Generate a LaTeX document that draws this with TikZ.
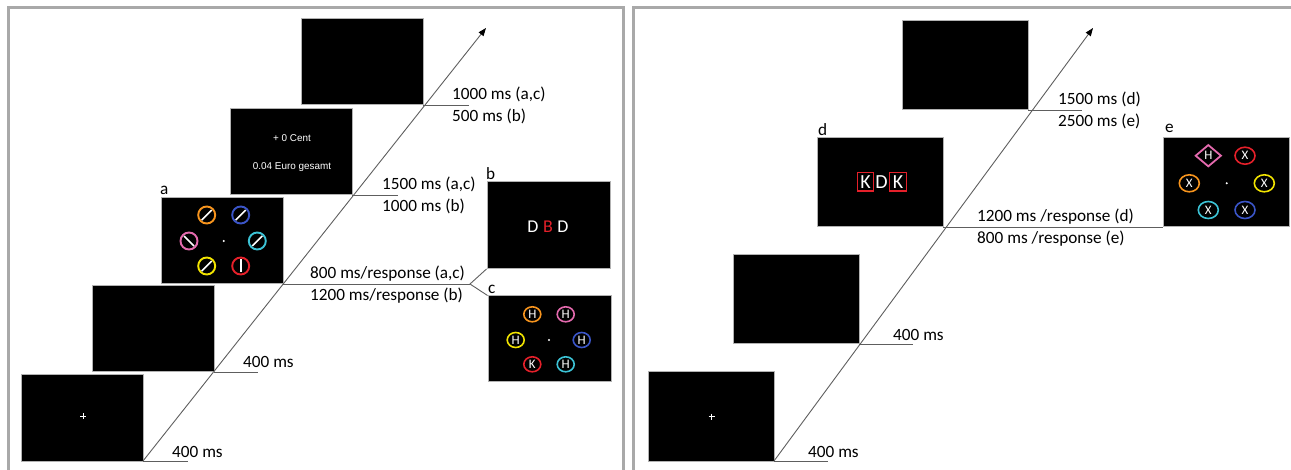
\documentclass[tikz,border=0pt]{standalone}
\usepackage{fontspec}
\setmainfont{Carlito}
\newfontfamily\arialfont{Liberation Sans}
\usetikzlibrary{arrows.meta,shapes.geometric}
\definecolor{cOrange}{HTML}{F7941D}
\definecolor{cBlue}{HTML}{3B55C8}
\definecolor{cPink}{HTML}{E46AAE}
\definecolor{cCyan}{HTML}{3CC3D6}
\definecolor{cYellow}{HTML}{F2E400}
\definecolor{cRed}{HTML}{E5202A}
\definecolor{panelframe}{HTML}{A9A9A9}
\definecolor{axisgray}{HTML}{5E5E5E}

\begin{document}
\begin{tikzpicture}[x=1pt,y=-1pt,
  screen/.style={fill=black, draw=gray!60, line width=0.5pt, minimum width=122pt,
    minimum height=86pt, inner sep=0pt, anchor=south east},
  wscreen/.style={screen, minimum width=126pt, minimum height=89pt},
  timeline/.style={draw=axisgray, line width=0.9pt},
  timearrow/.style={timeline, -{Triangle[length=8pt,width=6pt,color=black]}},
  lbl/.style={font=\fontsize{17.2}{18}\selectfont, inner sep=0pt, anchor=base west},
  panel/.style={draw=panelframe, line width=3pt},
  ring/.style={draw=#1, line width=1.9pt, circle, minimum size=17pt, inner sep=0pt},
  oval/.style={draw=#1, line width=1.6pt, ellipse, minimum width=17pt, minimum height=15pt,
    inner sep=0pt, text=white, font=\fontsize{13}{13}\selectfont},
  wideoval/.style={oval=#1, minimum width=20pt, minimum height=17pt},
  bar/.style={white, line width=1.6pt},
  dot/.style={white, fill=white},
  fixline/.style={white, line width=1pt},
  letter/.style={text=white, inner sep=0pt, font=\fontsize{18}{18}\selectfont},
  feedback/.style={text=white, inner sep=0pt, font=\arialfont\fontsize{9.9}{10}\selectfont}
]
\useasboundingbox (0,0) rectangle (1291,470);

% panel frames
\draw[panel] (8,480) -- (8,8) -- (623.5,8) -- (623.5,480);
\draw[panel] (633.5,480) -- (633.5,8) -- (1300,8);

% ---------------- left panel: screens ----------------
\node[screen] (L1) at (143,461) {};
\node[screen] (L2) at (214,372) {};
\node[screen] (La) at (283,284) {};
\node[screen] (L4) at (352,195) {};
\node[screen] (L5) at (423,105) {};
\node[screen, minimum width=123pt, minimum height=87pt] (Lb) at (610,269) {};
\node[screen, minimum width=123pt, minimum height=86pt] (Lc) at (611,382) {};

% time axis
\coordinate (Ltip) at (486,28);
\draw[timearrow] (L1.south east) -- (Ltip);

\coordinate (Lt1) at (188,461);
\coordinate (Lt2) at (258,372);
\coordinate (Lfork) at (470,284);
\coordinate (Lt4) at (398,195);
\coordinate (Lt5) at (469,105);
\draw[timeline] (L1.south east) -- (Lt1);
\draw[timeline] (L2.south east) -- (Lt2);
\draw[timeline] (La.south east) -- (Lfork);
\draw[timeline] (Lb.south west) -- (Lfork) -- (Lc.north west);
\draw[timeline] (L4.south east) -- (Lt4);
\draw[timeline] (L5.south east) -- (Lt5);

% durations
\node[lbl] (d1) at (172,457) {400 ms};
\node[lbl] (d2) at (243,368) {400 ms};
\node[lbl] (d3a) at (310,279) {800 ms/response (a,c)};
\node[lbl] (d3b) at (310,301) {1200 ms/response (b)};
\node[lbl] (d4a) at (382,190) {1500 ms (a,c)};
\node[lbl] (d4b) at (382,212) {1000 ms (b)};
\node[lbl] (d5a) at (452,100) {1000 ms (a,c)};
\node[lbl] (d5b) at (452,122) {500 ms (b)};

% condition letters
\node[lbl] (ta) at (160,195) {a};
\node[lbl] (tb) at (486,180) {b};
\node[lbl] (tc) at (488,294) {c};

% fixation
\draw[fixline] (83,413) -- (83,419) (80,416) -- (86,416);

% search display a: rings with tilted bars
\node[ring=cOrange] (a1) at (206.7,215) {};
\node[ring=cBlue]   (a2) at (240.7,215) {};
\node[ring=cPink]   (a3) at (189,241) {};
\node[ring=cCyan]   (a4) at (257.3,241) {};
\node[ring=cYellow] (a5) at (206.7,266) {};
\node[ring=cRed]    (a6) at (240.7,266) {};
\draw[bar] ([shift={(-5,5)}]a1.center) -- ([shift={(5,-5)}]a1.center);
\draw[bar] ([shift={(-5,5)}]a2.center) -- ([shift={(5,-5)}]a2.center);
\draw[bar] ([shift={(-5,-5)}]a3.center) -- ([shift={(5,5)}]a3.center);
\draw[bar] ([shift={(-5,5)}]a4.center) -- ([shift={(5,-5)}]a4.center);
\draw[bar] ([shift={(-5,5)}]a5.center) -- ([shift={(5,-5)}]a5.center);
\draw[bar] ([shift={(0,-6.5)}]a6.center) -- ([shift={(0,6.5)}]a6.center);
\fill[dot] (223.7,241) circle (1.1);

% feedback screen
\node[feedback] (fb1) at (292,138) {+ 0 Cent};
\node[feedback] (fb2) at (292,167) {0.04 Euro gesamt};

% display b: letter string
\node[letter] (b1) at (533,227) {D};
\node[letter, text=cRed] (b2) at (548,227) {B};
\node[letter] (b3) at (563,227) {D};

% display c: letters in ovals
\node[oval=cOrange] (c1) at (532.3,314.3) {H};
\node[oval=cPink]   (c2) at (565.7,314.3) {H};
\node[oval=cYellow] (c3) at (515.7,340) {H};
\node[oval=cBlue]   (c4) at (581.7,340) {H};
\node[oval=cRed]    (c5) at (532.3,364.3) {K};
\node[oval=cCyan]   (c6) at (565.7,364.3) {H};
\fill[dot] (549,340) circle (1.1);

% ---------------- right panel: screens ----------------
\node[wscreen] (R1) at (774,461) {};
\node[wscreen] (R2) at (859,344) {};
\node[wscreen] (Rd) at (943,227) {};
\node[wscreen] (R4) at (1028,110) {};
\node[wscreen] (Re) at (1289,227) {};

\coordinate (Rtip) at (1093,28);
\draw[timearrow] (R1.south east) -- (Rtip);

\coordinate (Rt1) at (828,461);
\coordinate (Rt2) at (913,344);
\coordinate (Rt4) at (1082,110);
\draw[timeline] (R1.south east) -- (Rt1);
\draw[timeline] (R2.south east) -- (Rt2);
\draw[timeline] (Rd.south east) -- (Re.south west);
\draw[timeline] (R4.south east) -- (Rt4);

\node[lbl] (r1) at (808,457) {400 ms};
\node[lbl] (r2) at (893,341) {400 ms};
\node[lbl] (r3a) at (977,222) {1200 ms /response (d)};
\node[lbl] (r3b) at (977,244) {800 ms /response (e)};
\node[lbl] (r4a) at (1058,105) {1500 ms (d)};
\node[lbl] (r4b) at (1058,127) {2500 ms (e)};

\node[lbl] (td) at (818,135.5) {d};
\node[lbl] (te) at (1165,133) {e};

% fixation
\draw[fixline] (711.7,413.7) -- (711.7,419.7) (708.7,416.7) -- (714.7,416.7);

% display d: flanker string with framed flankers
\node[letter, font=\fontsize{20}{20}\selectfont] (k1) at (865.5,182) {K};
\node[letter, font=\fontsize{20}{20}\selectfont] (k2) at (881.5,182) {D};
\node[letter, font=\fontsize{20}{20}\selectfont] (k3) at (898,182) {K};
\draw[cRed, line width=1.1pt] (857.3,172.7) rectangle (873.7,191);
\draw[cRed, line width=1.1pt] (889.3,172.7) rectangle (906.7,191);

% display e: singleton diamond among ovals
\node[draw=cPink, line width=1.8pt, diamond, minimum width=26pt, minimum height=22pt,
  inner sep=0pt, text=white, font=\fontsize{13}{13}\selectfont] (e1) at (1208.3,155.7) {H};
\node[wideoval=cRed]    (e2) at (1245,155.7) {X};
\node[wideoval=cOrange] (e3) at (1189.3,183.3) {X};
\node[wideoval=cYellow] (e4) at (1264.3,183.3) {X};
\node[wideoval=cCyan]   (e5) at (1208.3,210) {X};
\node[wideoval=cBlue]   (e6) at (1245,210) {X};
\fill[dot] (1226.7,183.3) circle (1.1);
\end{tikzpicture}
\end{document}
